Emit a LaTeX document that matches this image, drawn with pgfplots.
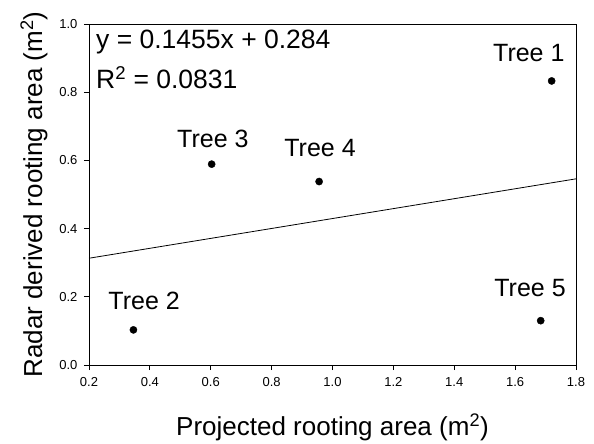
\documentclass[border=0pt]{standalone}
\usepackage{fontspec}
\setmainfont{Liberation Sans}
\usepackage{pgfplots}
\pgfplotsset{compat=1.18}
\usetikzlibrary{calc}
\pgfplotstableread{
x y
1.720 0.833
0.346 0.103
0.603 0.589
0.956 0.538
1.684 0.130
}\treedata
\newcommand{\sqsup}[1]{\raisebox{0.55em}{\fontsize{0.65em}{0.7em}\selectfont #1}}
\begin{document}
\begin{tikzpicture}
\begin{axis}[
  scale only axis, width=487bp, height=341bp,
  xmin=0.2, xmax=1.8, ymin=0, ymax=1.0,
  xtick={0.2,0.4,0.6,0.8,1.0,1.2,1.4,1.6,1.8},
  ytick={0,0.2,0.4,0.6,0.8,1.0},
  tick align=outside, tick pos=left,
  major tick length=5bp,
  /pgf/number format/assume math mode=true,
  /pgf/number format/fixed, /pgf/number format/fixed zerofill, /pgf/number format/precision=1,
  ticklabel style={font=\fontsize{13bp}{15bp}\selectfont},
  xticklabel style={yshift=-4bp},
  yticklabel style={xshift=-3bp},
  axis line style={line width=0.9bp},
  tick style={black, line width=0.8bp},
  xlabel={Projected rooting area (m\textsuperscript{2})},
  ylabel={Radar derived rooting area (m\textsuperscript{2})},
  label style={font=\fontsize{26bp}{30bp}\selectfont},
  xlabel style={at={(axis description cs:0.5,-0.2053)}, anchor=base},
  ylabel style={at={(axis description cs:-0.0965,0.5)}, anchor=base, rotate=0},
  clip=false,
]
\addplot[black, line width=0.8bp, no marks] coordinates {(0.2,0.3131) (1.8,0.5459)};
\addplot[only marks, mark=*, mark size=3.6bp, black] table[x=x,y=y]{\treedata};
\coordinate (sw) at (rel axis cs:0,0);
\begin{scope}[every node/.style={font=\fontsize{25bp}{30bp}\selectfont, inner sep=0pt}]
\node[anchor=base] at (axis cs:1.645,0.889) {Tree 1};
\node[anchor=base] at (axis cs:0.381,0.164) {Tree 2};
\node[anchor=base] at (axis cs:0.607,0.639) {Tree 3};
\node[anchor=base] at (axis cs:0.959,0.610) {Tree 4};
\node[anchor=base] at (axis cs:1.649,0.202) {Tree 5};
\node[anchor=base west, font=\fontsize{26.5bp}{30bp}\selectfont] at (axis cs:0.223,0.9296) {y = 0.1455x + 0.284};
\node[anchor=base west, font=\fontsize{26.5bp}{30bp}\selectfont] at (axis cs:0.223,0.812) {R\textsuperscript{2} = 0.0831};
\end{scope}
\end{axis}
\pgfresetboundingbox
\path[use as bounding box] ($(sw)+(-89bp,-79bp)$) rectangle ($(sw)+(505bp,365bp)$);
\end{tikzpicture}
\end{document}
